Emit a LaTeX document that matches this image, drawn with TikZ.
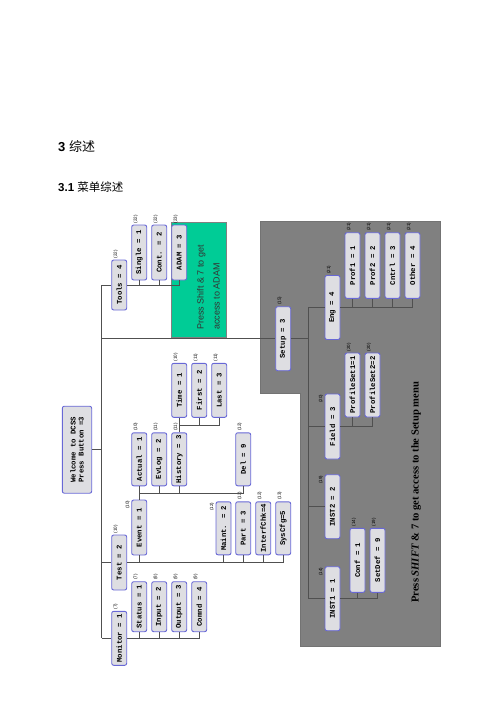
\documentclass[tikz,border=0pt]{standalone}
\usepackage{fontspec}
\setmainfont{Liberation Sans}
\newfontfamily\monobox{Liberation Mono}
\newfontfamily\setupfont{Liberation Serif}
\newfontfamily\cjk{Noto Sans CJK SC}
\definecolor{boxline}{RGB}{104,104,214}
\definecolor{boxfill}{RGB}{222,222,226}
\definecolor{adamgreen}{RGB}{0,204,150}
\definecolor{setupgray}{RGB}{128,128,128}
\definecolor{wirecol}{RGB}{80,80,80}

\begin{document}
\begin{tikzpicture}[x=1pt,y=1pt,
  menu/.style={draw=boxline,fill=boxfill,line width=0.9pt,rounded corners=2pt,rotate=90,
    minimum width=53pt,minimum height=15pt,inner sep=1pt,
    font=\monobox\bfseries\fontsize{7.3}{8}\selectfont},
  wide/.style={menu,minimum width=64pt},
  tag/.style={rotate=90,inner sep=1.2pt,anchor=south west,font=\fontsize{4.5}{5}\selectfont},
  sidetag/.style={tag,anchor=south east},
  wire/.style={draw=wirecol,line width=0.6pt}]
  \useasboundingbox (0,0) rectangle (500,-707);

  % headings
  \node [anchor=base west,inner sep=0pt,font=\fontsize{13}{15}\selectfont] (h1) at (58,-151) {\bfseries 3 \mdseries\cjk 综述};
  \node [anchor=base west,inner sep=0pt,font=\fontsize{11.5}{14}\selectfont] (h2) at (58,-191) {\bfseries 3.1 \mdseries\cjk 菜单综述};

  % shaded areas
  \draw [fill=setupgray,draw=black!55,line width=0.6pt] (260,-221.7) -- (440,-221.7) -- (440,-646)
    -- (300.7,-646) -- (300.7,-393.3) -- (260,-393.3) -- cycle;
  \draw [fill=adamgreen,draw=black!50,line width=0.4pt] (171,-221.7) rectangle (226,-336.7);
  \node [rotate=90,anchor=west,inner sep=0pt,align=left,text=black!80,
    font=\fontsize{9}{16}\selectfont] (adamnote) at (208.5,-330) {Press Shift \& 7 to get\\access to ADAM};
  \node [rotate=90,anchor=west,inner sep=0pt,
    font=\setupfont\bfseries\fontsize{10.6}{12}\selectfont] (setupnote) at (416,-603)
    {Press \textit{SHIFT} \& 7 to get access to the Setup menu};

  % root
  \node [menu,minimum width=87pt,minimum height=29.4pt,align=left] (root) at (77,-449.7)
    {Welcome to DCSS\\Press Button =3};

  % tools
  \node [menu,minimum width=50pt] (tools) at (119.2,-285) {Tools = 4};
  \node [menu,minimum width=55pt] (single) at (139.2,-252.5) {Single = 1};
  \node [menu,minimum width=55pt] (cont) at (159.2,-252.5) {Cont. = 2};
  \node [menu,minimum width=55pt] (adam) at (179.2,-252.5) {ADAM = 3};

  % setup
  \node [wide] (setup) at (283.2,-338.7) {Setup = 3};
  \node [wide] (eng) at (332.5,-307.5) {Eng = 4};
  \node [wide,minimum width=65.6pt] (prof1) at (352.5,-265.5) {Prof1 = 1};
  \node [wide,minimum width=65.6pt] (prof2) at (372.5,-265.5) {Prof2 = 2};
  \node [wide,minimum width=65.6pt] (cntrl) at (392.5,-265.5) {Cntrl = 3};
  \node [wide,minimum width=65.6pt] (other) at (412.5,-265.5) {Other = 4};
  \node [wide,minimum width=65pt] (field) at (332.5,-426.5) {Field = 3};
  \node [wide] (profset1) at (352.5,-385) {ProfileSet1=1};
  \node [wide] (profset2) at (372.5,-385) {ProfileSet2=2};
  \node [wide] (inst2) at (332.5,-506.7) {INST2 = 2};
  \node [wide] (inst1) at (332.5,-598.7) {INST1 = 1};
  \node [wide] (conf) at (357.5,-560.3) {Conf = 1};
  \node [wide] (setdef) at (377.5,-560.3) {SetDef = 9};

  % test
  \node [menu,minimum width=55pt] (test) at (119.2,-562.5) {Test = 2};
  \node [menu,minimum width=55pt] (event) at (139.2,-527.5) {Event = 1};
  \node [menu] (maint) at (223.5,-528.3) {Maint. = 2};
  \node [menu] (part) at (243.2,-528.3) {Part = 3};
  \node [menu] (interf) at (263.2,-528.3) {InterfChk=4};
  \node [menu] (syscfg) at (283.2,-528.3) {SysCfg=5};
  \node [menu] (actual) at (139.2,-459.3) {Actual = 1};
  \node [menu] (evlog) at (159.2,-459.3) {EvLog = 2};
  \node [menu] (history) at (179.2,-459.3) {History = 3};
  \node [menu] (del) at (243.2,-459.3) {Del = 9};
  \node [menu,minimum width=54pt] (time) at (179.2,-390.3) {Time = 1};
  \node [menu,minimum width=54pt] (first) at (199.2,-390.3) {First = 2};
  \node [menu,minimum width=54pt] (last) at (219.2,-390.3) {Last = 3};

  % monitor
  \node [menu,minimum width=54pt] (monitor) at (119.2,-638.3) {Monitor = 1};
  \node [menu,minimum width=50pt] (status) at (139.2,-606.7) {Status = 1};
  \node [menu,minimum width=50pt] (input) at (159.2,-606.7) {Input = 2};
  \node [menu,minimum width=50pt] (output) at (179.2,-606.7) {Output = 3};
  \node [menu,minimum width=50pt] (comnd) at (199.2,-606.7) {Comnd = 4};

  % screen numbers
  \node [tag] (tools-n) at (tools.east) {(22)};
  \node [tag] (single-n) at (single.east) {(22)};
  \node [tag] (cont-n) at (cont.east) {(22)};
  \node [tag] (adam-n) at (adam.east) {(23)};
  \node [tag] (setup-n) at (setup.east) {(15)};
  \node [tag] (eng-n) at (eng.east) {(21)};
  \node [tag] (prof1-n) at (prof1.east) {(21)};
  \node [tag] (prof2-n) at (prof2.east) {(21)};
  \node [tag] (cntrl-n) at (cntrl.east) {(21)};
  \node [tag] (other-n) at (other.east) {(21)};
  \node [sidetag] (field-n) at (field.north east) {(20)};
  \node [tag] (profset1-n) at (profset1.east) {(20)};
  \node [tag] (profset2-n) at (profset2.east) {(20)};
  \node [sidetag] (inst2-n) at (inst2.north east) {(19)};
  \node [sidetag] (inst1-n) at (inst1.north east) {(14)};
  \node [tag] (conf-n) at (conf.east) {(14)};
  \node [tag] (setdef-n) at (setdef.east) {(19)};
  \node [tag] (test-n) at (test.east) {(10)};
  \node [sidetag] (event-n) at (event.north east) {(10)};
  \node [sidetag] (maint-n) at (maint.north east) {(12)};
  \node [tag] (part-n) at (part.east) {(12)};
  \node [tag] (interf-n) at (interf.east) {(12)};
  \node [tag] (syscfg-n) at (syscfg.east) {(13)};
  \node [tag] (actual-n) at (actual.east) {(10)};
  \node [tag] (evlog-n) at (evlog.east) {(11)};
  \node [tag] (history-n) at (history.east) {(11)};
  \node [tag] (del-n) at (del.east) {(12)};
  \node [tag] (time-n) at (time.east) {(10)};
  \node [tag] (first-n) at (first.east) {(11)};
  \node [tag] (last-n) at (last.east) {(11)};
  \node [tag] (monitor-n) at (monitor.east) {(7)};
  \node [tag] (status-n) at (status.east) {(7)};
  \node [tag] (input-n) at (input.east) {(8)};
  \node [tag] (output-n) at (output.east) {(9)};
  \node [tag] (comnd-n) at (comnd.east) {(9)};

  % trunk and buses
  \coordinate (trunk) at (101.7,0);
  \coordinate (sbus) at (308.3,0);
  \coordinate (ebus) at (0,-493.3);
  \coordinate (hbus) at (0,-425);
  \draw [wire] (root.south) -- (root.south -| trunk);
  \draw [wire] (tools.north -| trunk) -- (monitor.north -| trunk);

  \draw [wire] (tools.north -| trunk) -- (tools.north);
  \draw [wire] (tools.south) -- (tools.south -| adam.west) -- (adam.west);
  \draw [wire] (single.west) -- (single.west |- tools.south);
  \draw [wire] (cont.west) -- (cont.west |- tools.south);

  \draw [wire] (setup.north -| trunk) -- (setup.north);
  \draw [wire] (setup.south) -- (setup.south -| sbus);
  \draw [wire] (eng.north -| sbus) -- (inst1.north -| sbus);
  \draw [wire] (eng.north -| sbus) -- (eng.north);
  \draw [wire] (eng.south) -- (eng.south -| other.west) -- (other.west);
  \draw [wire] (prof1.west) -- (prof1.west |- eng.south);
  \draw [wire] (prof2.west) -- (prof2.west |- eng.south);
  \draw [wire] (cntrl.west) -- (cntrl.west |- eng.south);
  \draw [wire] (field.north -| sbus) -- (field.north);
  \draw [wire] (field.south) -- (field.south -| profset2.west) -- (profset2.west);
  \draw [wire] (profset1.west) -- (profset1.west |- field.south);
  \draw [wire] (inst2.north -| sbus) -- (inst2.north);
  \draw [wire] (inst1.north -| sbus) -- (inst1.north);
  \draw [wire] (inst1.south) -- (inst1.south -| setdef.west) -- (setdef.west);
  \draw [wire] (conf.west) -- (conf.west |- inst1.south);

  \draw [wire] (test.north -| trunk) -- (test.north);
  \draw [wire] (test.south) -- (test.south -| syscfg.west) -- (syscfg.west);
  \draw [wire] (event.west) -- (event.west |- test.south);
  \draw [wire] (maint.west) -- (maint.west |- test.south);
  \draw [wire] (part.west) -- (part.west |- test.south);
  \draw [wire] (interf.west) -- (interf.west |- test.south);
  \draw [wire] (event.east) -- (actual.west);
  \draw [wire] (event.east |- ebus) -- (del.west |- ebus) -- (del.west);
  \draw [wire] (evlog.west) -- (evlog.west |- ebus);
  \draw [wire] (history.west) -- (history.west |- ebus);
  \draw [wire] (history.east) -- (time.west);
  \draw [wire] (time.west |- hbus) -- (last.west |- hbus) -- (last.west);
  \draw [wire] (first.west) -- (first.west |- hbus);

  \draw [wire] (monitor.north -| trunk) -- (monitor.north);
  \draw [wire] (monitor.south) -- (monitor.south -| comnd.west) -- (comnd.west);
  \draw [wire] (status.west) -- (status.west |- monitor.south);
  \draw [wire] (input.west) -- (input.west |- monitor.south);
  \draw [wire] (output.west) -- (output.west |- monitor.south);
\end{tikzpicture}
\end{document}
